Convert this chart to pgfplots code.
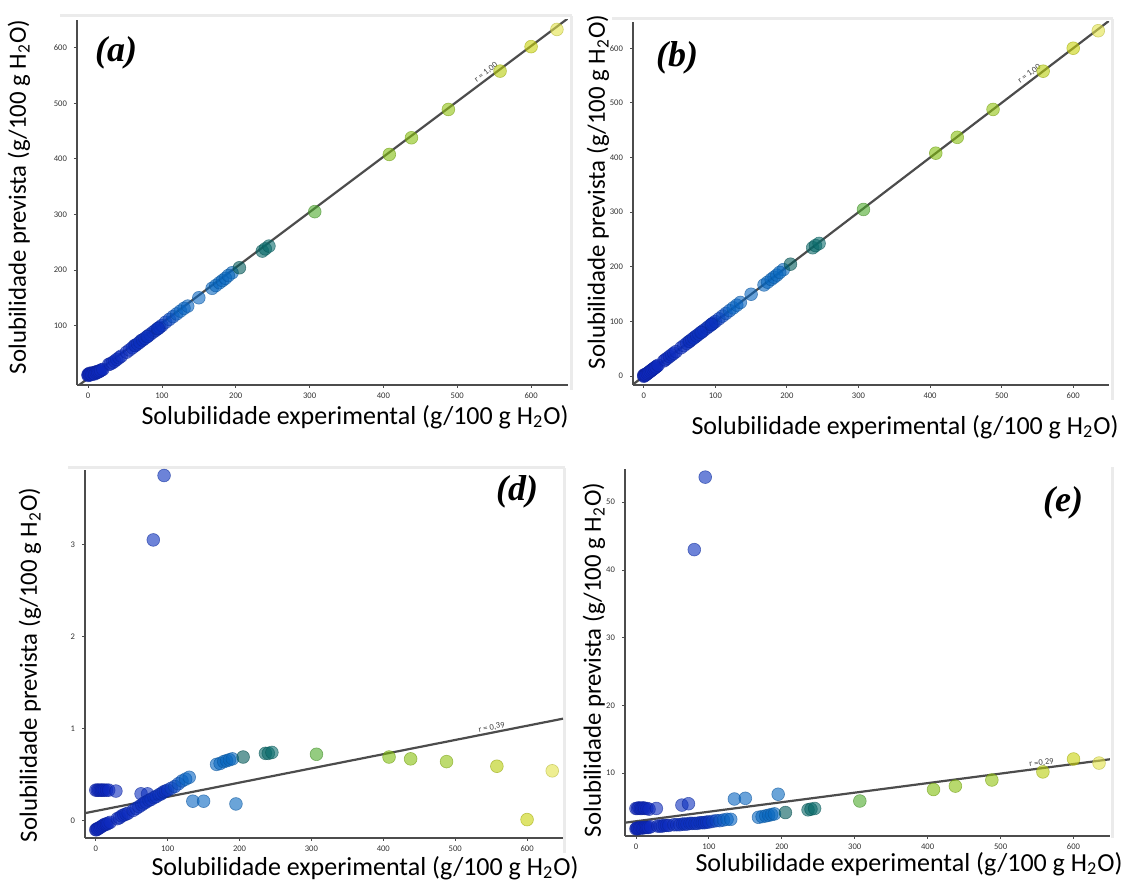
\documentclass[border=0pt]{standalone}
\usepackage{fontspec}
\setmainfont{Carlito}
\newfontfamily\tnr{Liberation Serif}
\usepackage{pgfplots}
\pgfplotsset{compat=1.18}
\usepackage{pgfplotstable}

\pgfplotstableread{
x ya yb yd ye
0 12 2 0.33 4.8
2 14 3 0.33 4.8
4 13 4 0.33 4.9
6 15 6 0.33 4.8
8 14 8 0.33 4.8
10 16 10 0.33 4.9
12 17 12 0.33 4.8
15 18 15 0.33 4.8
18 20 18 0.33 4.7
28 30 28 0.32 4.8
63 64 63 0.29 5.3
72 73 72 0.29 5.5
0 10 0 -0.10 1.8
1 12 1 -0.10 1.9
2 11 2 -0.09 1.8
3 13 3 -0.09 1.9
5 12 5 -0.08 1.9
7 14 7 -0.07 2.0
9 13 9 -0.06 1.9
11 15 11 -0.05 2.0
13 16 13 -0.04 2.0
15 17 15 -0.04 2.0
17 19 17 -0.03 2.0
20 21 20 -0.02 2.1
30 31 30 0.02 2.2
33 33 33 0.03 2.2
36 36 36 0.05 2.2
39 39 39 0.06 2.3
42 42 42 0.07 2.3
45 45 45 0.08 2.3
52 52 52 0.11 2.4
56 56 56 0.13 2.4
60 60 60 0.15 2.4
64 64 64 0.17 2.5
67 67 67 0.19 2.5
70 70 70 0.20 2.5
74 74 74 0.22 2.6
77 77 77 0.23 2.6
81 81 81 0.25 2.6
84 84 84 0.26 2.6
88 88 88 0.28 2.7
91 91 91 0.29 2.7
94 94 94 0.31 2.7
97 97 97 0.32 2.8
100 100 100 0.33 2.8
105 106 105 0.35 2.9
110 111 110 0.37 3.0
115 116 115 0.40 3.0
120 121 120 0.43 3.1
125 126 125 0.45 3.2
130 131 130 0.47 3.2
80 80 80 3.05 43.0
95 95 95 3.75 53.7
135 135 135 0.21 6.2
150 150 150 0.21 6.3
195 195 195 0.18 6.9
168 167 167 0.61 3.5
173 172 172 0.62 3.6
178 177 177 0.64 3.7
182 181 181 0.65 3.8
186 185 185 0.66 3.9
190 190 190 0.67 4.0
205 204 205 0.69 4.2
236 234 235 0.73 4.6
240 238 239 0.73 4.7
245 243 243 0.74 4.8
307 305 305 0.72 5.9
408 408 408 0.69 7.6
438 438 437 0.67 8.1
488 489 488 0.64 9.0
558 558 558 0.59 10.2
600 602 600 0.01 12.1
635 633 632 0.54 11.5
}\data

\pgfplotsset{
  colormap={sol}{rgb255(0pt)=(15,40,190); rgb255(20pt)=(10,50,190); rgb255(25pt)=(7,100,195); rgb255(39pt)=(7,103,190); rgb255(41pt)=(0,90,90); rgb255(50pt)=(10,110,110); rgb255(61pt)=(75,170,45); rgb255(82pt)=(130,190,10); rgb255(98pt)=(145,195,15); rgb255(112pt)=(185,205,10); rgb255(120pt)=(200,210,10); rgb255(128pt)=(230,230,80)},
  panel/.style={
    scale only axis,
    anchor=south west,
    axis x line=bottom, axis y line=left,
    axis line style={-, black!70, line width=0.8pt},
    xmin=-15, xmax=650,
    xtick={0,100,...,600},
    tick align=outside, major tick length=1.5pt,
    tick style={black!70, line width=0.4pt},
    ticklabel style={font=\fontsize{4.3}{5}\selectfont, text=black!80},
    xticklabel style={yshift=1.3pt},
    /pgf/number format/assume math mode=true,
    colormap name=sol, point meta min=0, point meta max=640,
  },
  pts/.style={scatter, only marks, scatter src=x, mark=*, mark size=3.2pt,
    mark options={opacity=0.6, line width=0.3pt}},
  fit/.style={black!70, line width=1.1pt},
}
\tikzset{rlab/.style={font=\fontsize{4.3}{5}\selectfont, text=black!75, inner sep=0.5pt, anchor=south}}

\begin{document}
\begin{tikzpicture}
\useasboundingbox (0,0) rectangle (568.5pt,440.5pt);
% light frames of the screenshots
\begin{scope}[x=0.5pt, y=-0.5pt, yshift=440.5pt]
  \draw[black!8, line width=1.5pt] (60,16) -- (572,16) (571,16) -- (571,390);
  \draw[black!8, line width=1.5pt] (612,19) -- (1113,19) (1112,19) -- (1112,400);
  \draw[black!8, line width=1.5pt] (68,468) -- (565,468) (564,468) -- (564,853);
  \draw[black!8, line width=1.5pt] (1112,467) -- (1112,838);
\end{scope}

% (a)
\begin{axis}[panel, at={(38.5pt,248pt)}, width=245.5pt, height=182.5pt,
  ymin=-7, ymax=650, ytick={100,200,...,600}]
  \addplot[fit] coordinates {(-15,-10) (650,653)};
  \addplot[pts] table[x=x, y=ya] {\data};
  \node[rlab, rotate=37] at (axis cs:543,549) {r = 1,00};
\end{axis}

% (b)
\begin{axis}[panel, at={(316.5pt,248pt)}, width=238pt, height=181.5pt,
  ymin=-16, ymax=648, ytick={0,100,...,600}]
  \addplot[fit] coordinates {(-15,-15) (650,650)};
  \addplot[pts] table[x=x, y=yb] {\data};
  \node[rlab, rotate=37.4] at (axis cs:543,546) {r = 1,00};
\end{axis}

% (d)
\begin{axis}[panel, at={(42.5pt,21.5pt)}, width=239pt, height=184pt,
  ymin=-0.19, ymax=3.81, ytick={0,1,2,3}]
  \addplot[fit] coordinates {(-15,0.08) (650,1.107)};
  \addplot[pts] table[x=x, y=yd] {\data};
  \node[rlab, rotate=11] at (axis cs:552,0.96) {r = 0,39};
\end{axis}

% (e)
\begin{axis}[panel, at={(312.5pt,22.5pt)}, width=242.5pt, height=183.5pt,
  ymin=0.74, ymax=54.9, ytick={10,20,...,50}]
  \addplot[fit] coordinates {(-15,2.7) (650,12.06)};
  \addplot[pts] table[x=x, y=ye] {\data};
  \node[rlab, rotate=7.5] at (axis cs:557,10.8) {r =0,29};
\end{axis}

\begin{scope}[x=0.5pt, y=-0.5pt, yshift=440.5pt]
  \tikzset{lab/.style={font=\fontsize{13}{15}\selectfont, inner sep=0pt}}
  \tikzset{ylab/.style={font=\fontsize{12.4}{14}\selectfont, inner sep=0pt, rotate=90}}
  \tikzset{pl/.style={font=\tnr\bfseries\itshape\fontsize{18}{20}\selectfont, inner sep=0pt}}
  \node[ylab] at (19,197) {Solubilidade prevista (g/100 g H\textsubscript{2}O)};
  \node[ylab] at (598,192) {Solubilidade prevista (g/100 g H\textsubscript{2}O)};
  \node[ylab] at (30,665) {Solubilidade prevista (g/100 g H\textsubscript{2}O)};
  \node[ylab] at (594,660) {Solubilidade prevista (g/100 g H\textsubscript{2}O)};
  \node[lab] at (355,417) {Solubilidade experimental (g/100 g H\textsubscript{2}O)};
  \node[lab] at (905,427) {Solubilidade experimental (g/100 g H\textsubscript{2}O)};
  \node[lab] at (365,868) {Solubilidade experimental (g/100 g H\textsubscript{2}O)};
  \node[lab] at (909,864) {Solubilidade experimental (g/100 g H\textsubscript{2}O)};
  \node[pl] at (116,53) {(a)};
  \node[pl] at (677,58) {(b)};
  \node[pl] at (517,492) {(d)};
  \node[pl] at (1063,503) {(e)};
\end{scope}
\end{tikzpicture}
\end{document}
